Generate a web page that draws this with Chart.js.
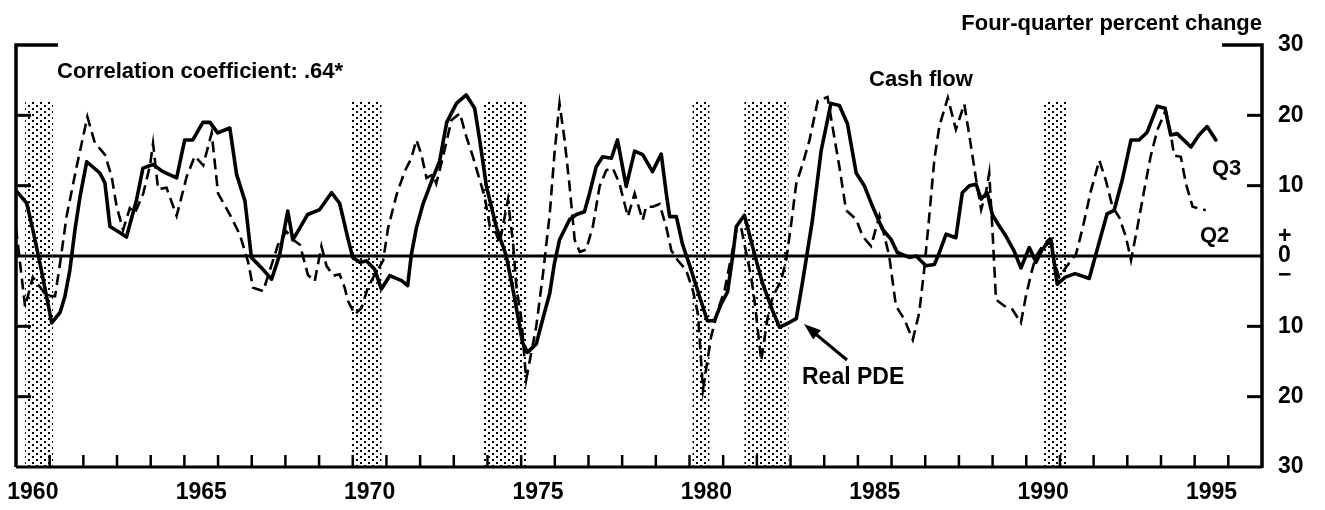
<!DOCTYPE html>
<html><head><meta charset="utf-8">
<script src="https://cdn.jsdelivr.net/npm/chart.js@4"></script>
<style>html,body{margin:0;padding:0;background:#fff}#wrap{width:1325px;height:510px;position:relative}</style>
</head><body><div id="wrap"><canvas id="c" width="1325" height="510"></canvas></div>
<script>
// Real PDE (solid, through Q3 1995): four-quarter percent change
const pdeYears = [1960.00,1960.32,1960.50,1960.71,1960.91,1961.06,1961.31,1961.45,1961.60,1961.75,
1961.90,1962.10,1962.49,1962.64,1962.79,1963.09,1963.28,1963.58,1963.77,1964.07,
1964.36,1964.77,1965.01,1965.25,1965.55,1965.76,1965.99,1966.35,1966.55,1966.80,
1966.99,1967.33,1967.59,1967.83,1968.07,1968.22,1968.43,1968.66,1969.02,1969.37,
1969.61,1969.85,1970.00,1970.21,1970.41,1970.65,1970.85,1971.10,1971.45,1971.63,
1971.74,1971.89,1972.08,1972.37,1972.58,1972.79,1973.08,1973.37,1973.62,1973.77,
1973.97,1974.26,1974.56,1974.81,1975.04,1975.19,1975.45,1975.64,1975.85,1975.99,
1976.14,1976.44,1976.64,1976.88,1977.03,1977.23,1977.42,1977.68,1977.86,1978.12,
1978.37,1978.61,1978.90,1979.16,1979.31,1979.41,1979.61,1979.79,1980.05,1980.30,
1980.53,1980.74,1980.94,1981.13,1981.28,1981.39,1981.63,1981.93,1982.17,1982.46,
1982.67,1982.91,1983.17,1983.35,1983.65,1983.91,1984.20,1984.45,1984.69,1984.95,
1985.19,1985.43,1985.73,1985.98,1986.17,1986.53,1986.73,1987.02,1987.27,1987.42,
1987.62,1987.91,1988.10,1988.31,1988.51,1988.66,1988.84,1988.99,1989.14,1989.40,
1989.64,1989.84,1990.09,1990.29,1990.47,1990.73,1990.92,1991.16,1991.45,1991.87,
1992.07,1992.40,1992.61,1992.85,1993.11,1993.35,1993.59,1993.89,1994.12,1994.29,
1994.48,1994.89,1995.13,1995.37,1995.63];
const pdeValues = [9.3,7.5,3.7,-1,-5.8,-9.5,-8,-5.8,-2,3.7,
8.4,13.4,11.8,10.4,4.2,3.3,2.7,8,12.5,13,
12,11.1,16.5,16.5,19,19,17.5,18.2,11.6,7.8,
-0.2,-1.9,-3.3,0.2,6.4,2.3,4,5.9,6.6,9,
7.5,2.6,-0.2,-0.9,-0.7,-1.9,-4.7,-2.8,-3.5,-4.2,
0.2,4,7.3,11,13.5,19,21.7,22.9,21,16.5,
9.9,4.2,0,-6.1,-12.3,-13.7,-12.5,-9,-5.3,-1,
2.3,5.2,5.9,6.3,8.9,12.7,14.1,13.9,16.5,9.9,
14.9,14.4,12,14.5,8.9,5.6,5.6,1.7,-2,-5.8,
-9.2,-9.2,-6.8,-5.1,-0.1,4.2,5.8,0.3,-3.9,-7.7,
-10.1,-9.6,-8.9,-3.9,5.1,15,21.7,21.4,18.8,11.8,
10,7.1,3.8,2.4,0.5,-0.2,0,-1.4,-1.2,0.5,
3.1,2.6,9,10,10.2,8.1,9,5.9,4.7,2.8,
0.7,-1.7,1.2,-0.9,0.9,2.4,-4,-3,-2.5,-3.2,
0.3,6,6.5,10.8,16.5,16.5,17.6,21.3,21,17.2,
17.4,15.5,17.2,18.4,16.5];

// Cash flow (dashed, through Q2 1995)
const cashYears = [1960.00,1960.27,1960.50,1960.91,1961.16,1961.31,1961.50,1961.80,1962.12,1962.34,
1962.64,1962.84,1962.99,1963.18,1963.38,1963.53,1963.78,1963.98,1964.07,1964.22,
1964.47,1964.77,1965.07,1965.31,1965.56,1965.81,1966.00,1966.35,1966.65,1966.89,
1967.04,1967.34,1967.78,1968.03,1968.23,1968.43,1968.67,1968.87,1969.07,1969.22,
1969.42,1969.61,1969.76,1969.86,1970.06,1970.26,1970.45,1970.60,1970.90,1971.05,
1971.30,1971.54,1971.74,1971.89,1972.04,1972.19,1972.38,1972.48,1972.68,1972.93,
1973.18,1973.37,1973.57,1973.77,1973.92,1974.07,1974.26,1974.36,1974.61,1974.76,
1974.86,1975.01,1975.15,1975.45,1975.65,1975.85,1975.99,1976.14,1976.29,1976.44,
1976.59,1976.74,1976.93,1977.13,1977.33,1977.53,1977.72,1977.92,1978.17,1978.37,
1978.61,1978.71,1978.91,1979.11,1979.31,1979.46,1979.65,1979.90,1980.10,1980.25,
1980.40,1980.64,1980.84,1981.04,1981.24,1981.39,1981.53,1981.83,1981.93,1982.13,
1982.32,1982.47,1982.72,1982.87,1983.02,1983.17,1983.36,1983.56,1983.81,1984.10,
1984.25,1984.45,1984.65,1984.95,1985.14,1985.39,1985.64,1985.79,1985.93,1986.13,
1986.38,1986.63,1986.82,1986.97,1987.12,1987.27,1987.42,1987.67,1987.91,1988.16,
1988.31,1988.51,1988.66,1988.80,1988.90,1989.00,1989.10,1989.35,1989.59,1989.84,
1989.99,1990.15,1990.29,1990.48,1990.68,1990.83,1990.98,1991.18,1991.48,1991.68,
1991.92,1992.17,1992.36,1992.56,1992.76,1992.96,1993.11,1993.30,1993.50,1993.69,
1993.89,1994.14,1994.29,1994.39,1994.59,1994.74,1994.94,1995.33];
const cashValues = [4,-7.2,-3,-5.7,-5.7,-1,5.6,12.7,19.8,16.1,
14.4,11.3,7,3.7,6.8,6.1,8.9,12.9,16,9.5,
9.7,5.7,11.3,14.2,12.9,17.5,8.9,5.9,3,-0.8,
-4.5,-5,1.6,3.5,2.3,1.6,-2.7,-3.6,1.4,-1.4,
-2.8,-2.6,-4.5,-6.4,-8.3,-7.4,-4.5,-3.1,-0.7,4,
8.7,12,13.9,16.5,14.4,11.1,11.6,10.3,14.1,19.3,
20.3,17,14.1,10.8,8.4,4.2,3.2,1.8,8,1.8,
-4.4,-9.1,-17.6,-10,-2.5,6,14.6,21.7,16.5,9.9,
2.3,0.6,0.9,4.2,9.9,12.2,12.5,10.3,5.6,8.9,
5.1,7,7,7.4,4.1,0.8,-0.6,-2,-4.9,-8.2,
-19,-11.5,-7.7,-4.9,-0.1,3.6,4.1,-3,-6.3,-14.9,
-8.7,-5.8,-3.5,-0.6,4.6,10.3,13.1,16.4,22.1,22.6,
18.3,12.7,6.5,5.2,2.8,1.4,5.7,2.8,0,-7.1,
-9,-11.9,-8.1,-1.9,5.7,13.7,18.5,22.5,18,21.6,
17.1,10.9,6.6,9,11.8,3.3,-6.2,-7.1,-7.6,-9.5,
-5.7,-2.4,0,1.4,2.4,-0.9,-3,-1.6,0.3,4.1,
9.3,13.6,10.8,7,5.5,2.7,-0.6,4.1,9.3,14.1,
17.9,20.7,17.4,14.3,14.1,10.3,7,6.5];

// Recession periods (shaded)
const recessionStarts = [1960.27,1969.96,1973.86,1980.09,1981.63,1990.53];
const recessionEnds   = [1961.10,1970.85,1975.19,1980.59,1982.94,1991.19];
const recessionTop = 22;

// Axis ticks
const xTickLabels = [1960,1965,1970,1975,1980,1985,1990,1995];
const yTickValues = [-30,-20,-10,0,10,20,30];

const FONT = '"Liberation Sans", Arial, Helvetica, sans-serif';

function makePattern(ctx){
  const p = document.createElement('canvas');
  p.width = 8; p.height = 6;
  const c = p.getContext('2d');
  c.fillStyle = '#fff'; c.fillRect(0,0,8,6);
  c.fillStyle = '#000';
  c.fillRect(0,0,2,2);
  c.fillRect(4,3,2,2);
  return ctx.createPattern(p,'repeat');
}

const framePlugin = {
  id: 'frame',
  beforeDatasetsDraw(chart){
    const {ctx, scales:{x, y}} = chart;
    ctx.save();
    ctx.fillStyle = makePattern(ctx);
    for (let i=0;i<recessionStarts.length;i++){
      const x0 = x.getPixelForValue(recessionStarts[i]);
      const x1 = x.getPixelForValue(recessionEnds[i]);
      const y0 = y.getPixelForValue(recessionTop);
      const y1 = y.getPixelForValue(-30);
      ctx.fillRect(x0, y0, x1-x0, y1-y0);
    }
    ctx.restore();
  },
  afterDatasetsDraw(chart){
    const {ctx, scales:{x, y}} = chart;
    const L = x.getPixelForValue(1960), R = x.getPixelForValue(1997);
    const T = y.getPixelForValue(30), B = y.getPixelForValue(-30), Z = y.getPixelForValue(0);
    ctx.save();
    ctx.strokeStyle = '#000';
    ctx.lineCap = 'butt';
    // zero line
    ctx.lineWidth = 3;
    ctx.beginPath(); ctx.moveTo(L, Z); ctx.lineTo(R, Z); ctx.stroke();
    // left axis + bracket
    ctx.lineWidth = 3.5;
    ctx.beginPath(); ctx.moveTo(L, B); ctx.lineTo(L, T); ctx.lineTo(L+42, T); ctx.stroke();
    // right axis + bracket
    ctx.beginPath(); ctx.moveTo(R, B+1); ctx.lineTo(R, T); ctx.lineTo(R-40, T); ctx.stroke();
    // bottom axis
    ctx.lineWidth = 3;
    ctx.beginPath(); ctx.moveTo(L, B); ctx.lineTo(R, B); ctx.stroke();
    // y minor ticks (inward)
    ctx.lineWidth = 3;
    [-20,-10,10,20].forEach(v=>{
      const py = y.getPixelForValue(v);
      ctx.beginPath(); ctx.moveTo(L, py); ctx.lineTo(L+15, py); ctx.stroke();
      ctx.beginPath(); ctx.moveTo(R, py); ctx.lineTo(R-15, py); ctx.stroke();
    });
    // x year ticks (upward)
    ctx.lineWidth = 2.5;
    for (let yr=1961; yr<=1996; yr++){
      const px = x.getPixelForValue(yr);
      ctx.beginPath(); ctx.moveTo(px, B); ctx.lineTo(px, B-12); ctx.stroke();
    }
    // texts
    ctx.fillStyle = '#000';
    ctx.textBaseline = 'middle';
    ctx.font = 'bold 22px ' + FONT;
    ctx.textAlign = 'left';
    ctx.fillText('Correlation coefficient: .64*', 57, 72);
    ctx.fillText('Cash flow', 869, 80);
    ctx.fillText('Q3', 1212, 169);
    ctx.fillText('Q2', 1200, 236);
    ctx.font = 'bold 23px ' + FONT;
    ctx.fillText('Real PDE', 802, 378);
    ctx.font = 'bold 22px ' + FONT;
    ctx.textAlign = 'right';
    ctx.fillText('Four-quarter percent change', 1262, 24);
    // arrow
    const ax0 = 847, ay0 = 360, ax1 = 804, ay1 = 324;
    ctx.lineWidth = 3;
    ctx.beginPath(); ctx.moveTo(ax0, ay0); ctx.lineTo(ax1+8, ay1+7); ctx.stroke();
    const ang = Math.atan2(ay1-ay0, ax1-ax0);
    const hl = 17, hw = 6;
    ctx.beginPath();
    ctx.moveTo(ax1, ay1);
    ctx.lineTo(ax1 - hl*Math.cos(ang) + hw*Math.sin(ang), ay1 - hl*Math.sin(ang) - hw*Math.cos(ang));
    ctx.lineTo(ax1 - hl*Math.cos(ang) - hw*Math.sin(ang), ay1 - hl*Math.sin(ang) + hw*Math.cos(ang));
    ctx.closePath(); ctx.fill();
    ctx.restore();
  }
};

new Chart(document.getElementById('c'), {
  type: 'line',
  data: {
    datasets: [
      { label: 'Real PDE', data: pdeYears.map((xv,i)=>({x:xv, y:pdeValues[i]})),
        borderColor:'#000', borderWidth:3.6, pointRadius:0, tension:0, borderJoinStyle:'round', borderCapStyle:'round' },
      { label: 'Cash flow', data: cashYears.map((xv,i)=>({x:xv, y:cashValues[i]})),
        borderColor:'#000', borderWidth:2.6, borderDash:[11,6], pointRadius:0, tension:0 }
    ]
  },
  options: {
    responsive:false, animation:false, devicePixelRatio:1,
    layout:{ padding:{ left:16, top:45, right:0, bottom:0 } },
    plugins:{ legend:{display:false}, tooltip:{enabled:false} },
    scales:{
      x:{ type:'linear', min:1960, max:1997, position:'bottom',
        grid:{display:false, drawTicks:false}, border:{display:false},
        afterBuildTicks: s => { s.ticks = xTickLabels.map(v=>({value:v+0.5})); },
        afterFit: s => { s.height = 43; s.paddingLeft = 0; s.paddingRight = 0; },
        ticks:{ autoSkip:false, maxRotation:0, padding:12, color:'#000',
          font:{family:FONT, size:23, weight:'bold'},
          callback: v => String(Math.floor(v)) } },
      y:{ type:'linear', min:-30, max:30, position:'right',
        grid:{display:false, drawTicks:false}, border:{display:false},
        afterBuildTicks: s => { s.ticks = yTickValues.map(v=>({value:v})); },
        afterFit: s => { s.width = 63; s.paddingTop = 0; s.paddingBottom = 0; },
        ticks:{ padding:16, color:'#000', font:{family:FONT, size:23, weight:'bold', lineHeight:0.85},
          callback: v => v === 0 ? ['+','0','\u2212'] : String(Math.abs(v)) } }
    }
  },
  plugins:[framePlugin]
});
</script></body></html>
